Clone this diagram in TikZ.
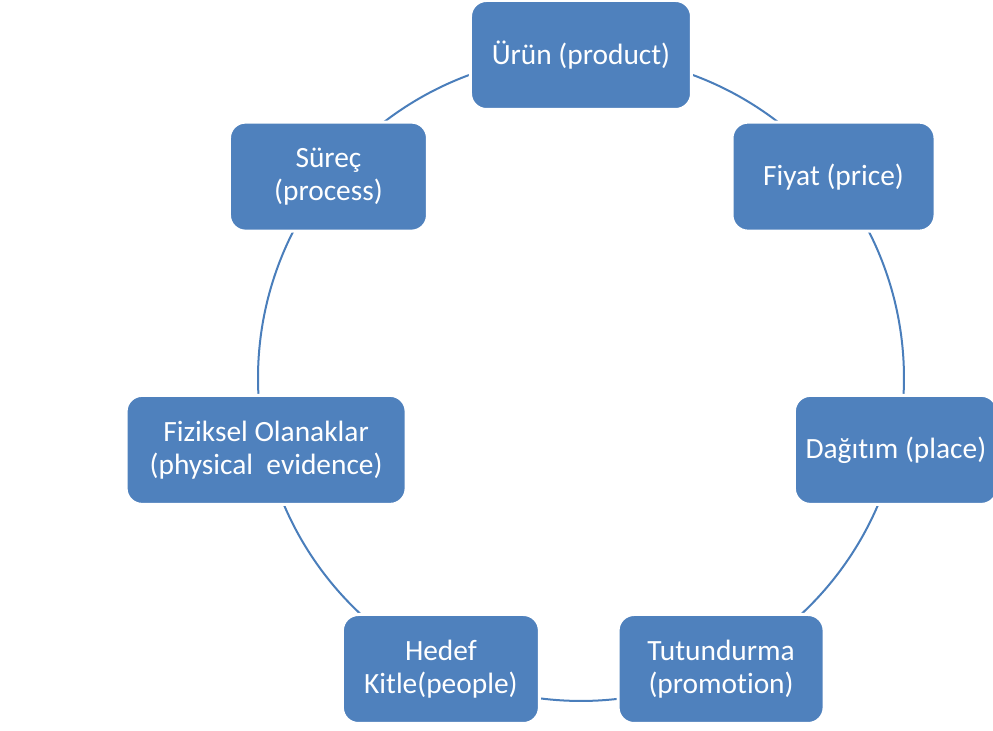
\documentclass[tikz,border=0pt]{standalone}
\usepackage{fontspec}
\setmainfont{Carlito}[Ligatures=NoCommon]
\usetikzlibrary{positioning}
\pgfdeclarelayer{background}
\pgfsetlayers{background,main}
\definecolor{boxblue}{HTML}{4F81BD}
\definecolor{arcblue}{HTML}{4A7EBB}

\begin{document}
\begin{tikzpicture}[
  box/.style={draw=white, line width=1.5pt, fill=boxblue, text=white,
    rounded corners=8pt, minimum height=54.5pt, minimum width=98.5pt,
    align=center, font=\fontsize{14.7}{16.5}\selectfont},
  cyc/.style={draw=arcblue, line width=1pt}]
\def\rad{161.5pt}
\useasboundingbox (-290.5pt,-176.5pt) rectangle (206pt,189pt);
\coordinate (c) at (0,0);
% the seven boxes round the circle
\node[box, minimum width=110.5pt] (urun)       at (90:\rad)     {Ürün (product)};
\node[box, minimum width=101.5pt] (fiyat)      at (38.57:\rad)  {Fiyat (price)};
\node[box, minimum width=101.5pt] (dagitim)    at (-12.86:\rad) {Dağıtım (place)};
\node[box, minimum width=103pt]   (tutundurma) at (-64.29:\rad) {Tutundurma\\(promotion)};
\node[box, minimum width=98.5pt]  (hedef)      at (-115.71:\rad){Hedef\\Kitle(people)};
\node[box, minimum width=140pt]   (fiziksel)   at (192.86:\rad) {Fiziksel Olanaklar\\(physical~ evidence)};
\node[box, minimum width=99pt]    (surec)      at (141.43:\rad) {Süreç\\(process)};
% arcs behind the boxes
\begin{pgfonlayer}{background}
\draw[cyc] (fiyat.center)      arc[start angle=38.57,  end angle=90,     radius=\rad];
\draw[cyc] (dagitim.center)    arc[start angle=-12.86, end angle=38.57,  radius=\rad];
\draw[cyc] (tutundurma.center) arc[start angle=-64.29, end angle=-12.86, radius=\rad];
\draw[cyc] (hedef.center)      arc[start angle=-115.71,end angle=-64.29, radius=\rad];
\draw[cyc] (fiziksel.center)   arc[start angle=192.86, end angle=244.29, radius=\rad];
\draw[cyc] (surec.center)      arc[start angle=141.43, end angle=192.86, radius=\rad];
\draw[cyc] (urun.center)       arc[start angle=90,     end angle=141.43, radius=\rad];
\end{pgfonlayer}
\end{tikzpicture}
\end{document}
